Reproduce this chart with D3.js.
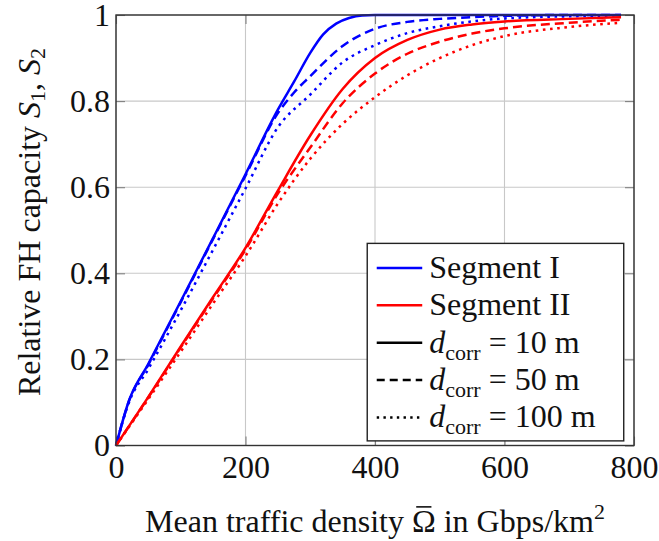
<!DOCTYPE html>
<html>
<head>
<meta charset="utf-8">
<script src="https://cdn.jsdelivr.net/npm/d3@7"></script>
<style>
  body { margin: 0; background: #fff; }
</style>
</head>
<body>
<div id="wrapper"></div>
<script>
const fontSize = 32
const subSize = 22

// Mean traffic density (Gbps/km^2) sample points for each curve
const densityI10 = [0, 20, 50, 100, 150, 200, 250, 275, 300, 320, 340, 360, 380, 400, 500, 600, 700, 780]
const segI10 = [0, 0.104, 0.19, 0.335, 0.482, 0.63, 0.78, 0.845, 0.912, 0.955, 0.98, 0.993, 0.999, 1, 1, 1, 1, 1]

const densityI50 = [0, 20, 50, 100, 150, 200, 250, 275, 300, 350, 400, 450, 500, 550, 600, 700, 780]
const segI50 = [0, 0.103, 0.188, 0.333, 0.48, 0.627, 0.772, 0.82, 0.858, 0.928, 0.968, 0.984, 0.991, 0.995, 0.998, 1, 1]

const densityI100 = [0, 20, 50, 100, 150, 200, 250, 300, 350, 400, 450, 500, 550, 600, 700, 780]
const segI100 = [0, 0.1, 0.178, 0.314, 0.455, 0.597, 0.739, 0.815, 0.89, 0.93, 0.958, 0.974, 0.985, 0.992, 0.997, 0.999]

const densityII = [0, 50, 100, 150, 200, 250, 300, 350, 400, 450, 500, 550, 600, 700, 780]
const segII10 = [0, 0.113, 0.23, 0.345, 0.459, 0.592, 0.72, 0.828, 0.9, 0.942, 0.966, 0.978, 0.985, 0.991, 0.995]
const segII50 = [0, 0.112, 0.228, 0.342, 0.455, 0.585, 0.692, 0.795, 0.864, 0.91, 0.938, 0.957, 0.969, 0.982, 0.989]
const segII100 = [0, 0.108, 0.218, 0.33, 0.44, 0.562, 0.666, 0.747, 0.809, 0.86, 0.9, 0.93, 0.951, 0.972, 0.982]

const xTicks = [0, 200, 400, 600, 800]
const yTicks = [0, 0.2, 0.4, 0.6, 0.8, 1]

const dashStyles = { solid: null, dashed: "9,5", dotted: "2.6,4.6" }

const series = [
  { x: densityI10, y: segI10, color: "#0000ff", style: "solid" },
  { x: densityI50, y: segI50, color: "#0000ff", style: "dashed" },
  { x: densityI100, y: segI100, color: "#0000ff", style: "dotted" },
  { x: densityII, y: segII10, color: "#ff0000", style: "solid" },
  { x: densityII, y: segII50, color: "#ff0000", style: "dashed" },
  { x: densityII, y: segII100, color: "#ff0000", style: "dotted" },
]

const dimensions = {
  width: 659,
  height: 541,
  margin: { top: 15, right: 25, bottom: 95.5, left: 116 },
}
dimensions.boundedWidth = dimensions.width - dimensions.margin.left - dimensions.margin.right
dimensions.boundedHeight = dimensions.height - dimensions.margin.top - dimensions.margin.bottom

// all text inherits the serif face from the svg root
const wrapper = d3.select("#wrapper")
  .append("svg")
    .attr("width", dimensions.width)
    .attr("height", dimensions.height)
    .attr("font-family", "Liberation Serif")
    .attr("font-size", fontSize)

const bounds = wrapper.append("g")
  .attr("transform", `translate(${dimensions.margin.left},${dimensions.margin.top})`)

const xScale = d3.scaleLinear()
  .domain([0, 800])
  .range([0, dimensions.boundedWidth])

const yScale = d3.scaleLinear()
  .domain([0, 1])
  .range([dimensions.boundedHeight, 0])

// grid
bounds.append("g")
  .selectAll("line")
  .data(xTicks)
  .join("line")
    .attr("x1", d => xScale(d)).attr("x2", d => xScale(d))
    .attr("y1", 0).attr("y2", dimensions.boundedHeight)
    .attr("stroke", "#c8c8c8").attr("stroke-width", 1.1)
bounds.append("g")
  .selectAll("line")
  .data(yTicks)
  .join("line")
    .attr("x1", 0).attr("x2", dimensions.boundedWidth)
    .attr("y1", d => yScale(d)).attr("y2", d => yScale(d))
    .attr("stroke", "#c8c8c8").attr("stroke-width", 1.1)

// axes: inner ticks on every side, labels bottom/left
const tickLen = 9
const xAxis = bounds.append("g")
  .attr("transform", `translate(0,${dimensions.boundedHeight})`)
  .call(d3.axisBottom(xScale).tickValues(xTicks).tickSize(-tickLen).tickPadding(10).tickFormat(d3.format("d")))
const xAxisTop = bounds.append("g")
  .call(d3.axisTop(xScale).tickValues(xTicks).tickSize(-tickLen).tickFormat(""))
const yAxis = bounds.append("g")
  .call(d3.axisLeft(yScale).tickValues(yTicks).tickSize(-tickLen).tickPadding(6)
    .tickFormat(d => d === 0 || d === 1 ? d3.format("d")(d) : d3.format(".1f")(d)))
const yAxisRight = bounds.append("g")
  .attr("transform", `translate(${dimensions.boundedWidth},0)`)
  .call(d3.axisRight(yScale).tickValues(yTicks).tickSize(-tickLen).tickFormat(""))

;[xAxis, xAxisTop, yAxis, yAxisRight].forEach(a => {
  a.attr("font-family", "Liberation Serif").attr("font-size", fontSize)
  a.select(".domain").remove()
  a.selectAll(".tick line").attr("stroke", "#808080").attr("stroke-width", 1.1)
  a.selectAll(".tick text").attr("fill", "#111")
})

// curves
const lineGenerator = d3.line()
  .x(d => xScale(d[0]))
  .y(d => yScale(d[1]))
  .curve(d3.curveMonotoneX)

series.forEach(s => {
  bounds.append("path")
    .attr("d", lineGenerator(d3.zip(s.x, s.y)))
    .attr("fill", "none")
    .attr("stroke", s.color)
    .attr("stroke-width", 2.5)
    .attr("stroke-dasharray", dashStyles[s.style])
})

// frame
bounds.append("rect")
  .attr("width", dimensions.boundedWidth)
  .attr("height", dimensions.boundedHeight)
  .attr("fill", "none")
  .attr("stroke", "#333")
  .attr("stroke-width", 1.4)

// legend
const legendEntries = [
  { color: "#0000ff", style: "solid", label: "Segment I" },
  { color: "#ff0000", style: "solid", label: "Segment II" },
  { color: "#000", style: "solid", corr: "10" },
  { color: "#000", style: "dashed", corr: "50" },
  { color: "#000", style: "dotted", corr: "100" },
]
const legend = bounds.append("g")
  .attr("transform", `translate(${xScale(388)},${yScale(0.4695)})`)
legend.append("rect")
  .attr("width", 256.5)
  .attr("height", 197.5)
  .attr("fill", "#fff")
  .attr("stroke", "#222")
  .attr("stroke-width", 1.4)

const rows = legend.selectAll("g.row")
  .data(legendEntries)
  .join("g")
    .attr("class", "row")
    .attr("transform", (d, i) => `translate(0,${24.5 + i * 37.4})`)
rows.append("line")
  .attr("x1", 9.5).attr("x2", 55)
  .attr("stroke", d => d.color)
  .attr("stroke-width", 2.5)
  .attr("stroke-dasharray", d => d.style === "dashed" ? "8,5" : d.style === "dotted" ? "2.4,4.3" : null)
const labels = rows.append("text")
  .attr("x", 62)
  .attr("y", 10)
  .attr("fill", "#111")
labels.filter(d => d.label).text(d => d.label)
labels.filter(d => d.corr).each(function(d) {
  const t = d3.select(this)
  t.append("tspan").attr("font-style", "italic").text("d")
  t.append("tspan").attr("dy", 7).attr("font-size", subSize).text("corr")
  t.append("tspan").attr("dy", -7).text(` = ${d.corr} m`)
})

// axis titles
const xTitleText = "Mean traffic density "
const xTitle = wrapper.append("text")
  .attr("x", dimensions.margin.left + dimensions.boundedWidth / 2)
  .attr("y", 532)
  .attr("text-anchor", "middle")
  .attr("fill", "#111")
xTitle.append("tspan").text(xTitleText)
xTitle.append("tspan").text("Ω")
xTitle.append("tspan").text(" in Gbps/km")
xTitle.append("tspan").attr("dy", -13).attr("font-size", subSize).text("2")

// bar over the Omega
const omegaBox = xTitle.node().getExtentOfChar(xTitleText.length)
wrapper.append("line")
  .attr("x1", omegaBox.x + omegaBox.width * 0.18)
  .attr("x2", omegaBox.x + omegaBox.width * 0.82)
  .attr("y1", 532 - fontSize * 0.66 - 4)
  .attr("y2", 532 - fontSize * 0.66 - 4)
  .attr("stroke", "#111")
  .attr("stroke-width", 1.6)

const yTitle = wrapper.append("text")
  .attr("transform", `translate(40,222) rotate(-90)`)
  .attr("text-anchor", "middle")
  .attr("fill", "#111")
yTitle.append("tspan").text("Relative FH capacity ")
yTitle.append("tspan").attr("font-style", "italic").text("S")
yTitle.append("tspan").attr("dy", 5).attr("font-size", subSize).text("1")
yTitle.append("tspan").attr("dy", -5).text(", ")
yTitle.append("tspan").attr("font-style", "italic").text("S")
yTitle.append("tspan").attr("dy", 5).attr("font-size", subSize).text("2")
</script>
</body>
</html>
